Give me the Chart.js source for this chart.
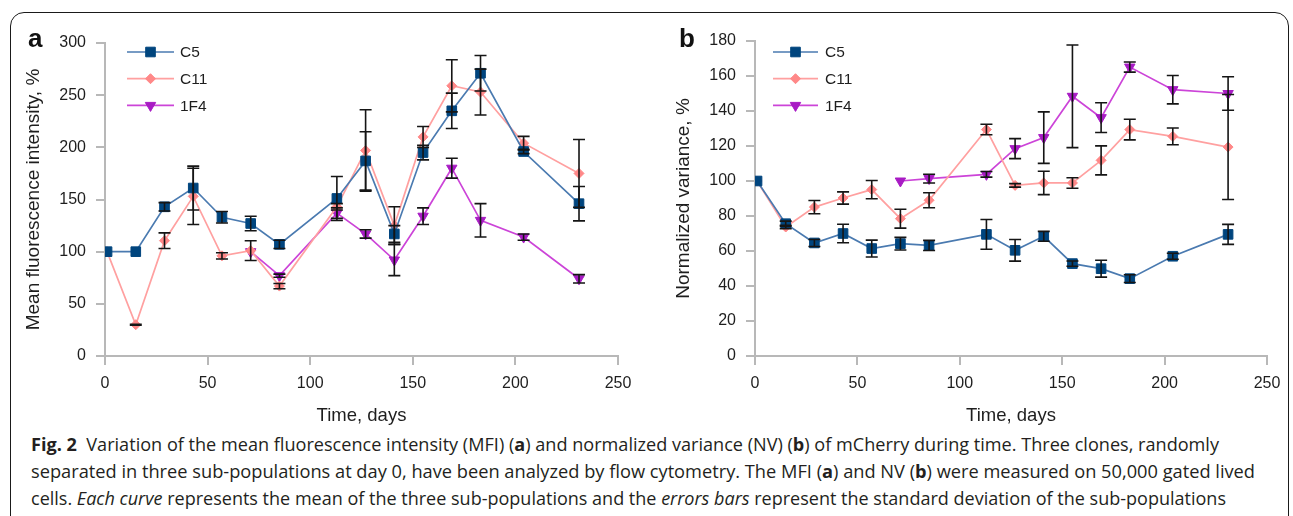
<!DOCTYPE html>
<html>
<head>
<meta charset="utf-8">
<script src="https://cdn.jsdelivr.net/npm/chart.js@4.4.1/dist/chart.umd.min.js"></script>
<style>
  html, body { margin: 0; padding: 0; background: #fff; }
  body { width: 1293px; height: 516px; position: relative; overflow: hidden; font-family: "Liberation Sans", Arial, sans-serif; }
  .frame { position: absolute; left: 10px; top: 12px; width: 1279px; height: 560px; border: 1.5px solid #1a1a1a; border-radius: 14px; box-sizing: border-box; }
  canvas { position: absolute; top: 0; }
  #mfiChart { left: 0; }
  #nvChart { left: 650px; }
  .panel { position: absolute; top: 25px; font: bold 26px/26px "Liberation Sans", Arial, sans-serif; color: #111; }
  .caption { position: absolute; left: 31px; top: 431px; font: 17.5px/27px "Open Sans", sans-serif; color: #231f20; }
  .caption div { white-space: nowrap; transform-origin: 0 0; width: max-content; }
</style>
</head>
<body>
<div class="frame"></div>
<canvas id="mfiChart" width="650" height="430"></canvas>
<canvas id="nvChart" width="643" height="430"></canvas>
<div class="panel" style="left:28px">a</div>
<div class="panel" style="left:679px">b</div>
<div class="caption">
  <div><b>Fig. 2</b>&nbsp; Variation of the mean fluorescence intensity (MFI) (<b>a</b>) and normalized variance (NV) (<b>b</b>) of mCherry during time. Three clones, randomly</div>
  <div>separated in three sub-populations at day 0, have been analyzed by flow cytometry. The MFI (<b>a</b>) and NV (<b>b</b>) were measured on 50,000 gated lived</div>
  <div>cells. <i>Each curve</i> represents the mean of the three sub-populations and the <i>errors bars</i> represent the standard deviation of the sub-populations</div>
</div>
<script>
// sampling days (same for both panels)
const days = [1, 15, 29, 43, 57, 71, 85, 113, 127, 141, 155, 169, 183, 204, 231];
const seriesNames = ['C5', 'C11', '1F4'];

// panel a - mean fluorescence intensity, %
const mfiC5 = [100, 100, 143, 161, 133, 127, 107, 151, 187, 117, 195, 235, 271, 196, 146];
const mfiC5Err = [0, 0, 4, 21, 5.5, 7, 4, 21, 28, 8, 7, 17, 17, 2, 16.5];
const mfiC11 = [100, 30, 110.5, 153, 96, 101, 67, 143, 197, 125, 210, 259, 253, 204, 175];
const mfiC11Err = [0, 0.5, 7.5, 27, 3, 9.5, 2.5, 3, 39, 18, 10, 25, 22, 6.5, 32.5];
const mfi1F4 = [null, null, null, null, null, 100, 77, 137, 117, 92, 134, 180, 130, 114, 74];
const mfi1F4Err = [null, null, null, null, null, 0, 1.5, 5, 4, 15, 8, 9.5, 16, 3, 4];

// panel b - normalized variance, %
const nvC5 = [100, 75.6, 64.6, 70, 61.4, 64.2, 63.2, 69.5, 60.4, 68.4, 52.8, 49.9, 44.2, 57, 69.5];
const nvC5Err = [0, 1.5, 2, 5.3, 4.8, 3.6, 2.9, 8.5, 6.2, 2.8, 1.5, 4.8, 2.2, 1.7, 5.7];
const nvC11 = [100, 73.7, 85.1, 90.3, 95.1, 78.5, 89, 129.4, 97.5, 98.9, 98.9, 111.8, 129.4, 125.5, 119.4];
const nvC11Err = [0, 1, 3.8, 3.5, 5.2, 5.4, 4.3, 3, 1, 6.7, 3, 8.3, 5.9, 4.8, 30];
const nv1F4 = [null, null, null, null, null, 100, 101.4, 103.8, 118.5, 124.8, 148.4, 136.2, 165.1, 152.2, 150];
const nv1F4Err = [null, null, null, null, null, 0, 2.5, 1.6, 5.7, 14.7, 29.3, 8.5, 2.9, 8.1, 9.6];

// tick settings
const xTicks = { min: 0, max: 250, step: 50 };
const mfiTicks = { min: 0, max: 300, step: 50 };
const nvTicks = { min: 0, max: 180, step: 20 };

const axisGrey = '#b8b8b8';
const textColor = '#1e1e1e';
const fontFamily = '"Liberation Sans", Arial, sans-serif';
const tickFont = { family: fontFamily, size: 16 };

const styles = [
    { line: '#4a7ab0', fill: '#00457e', point: 'rect', radius: 6.8, rotation: 0 },
    { line: '#ffa0a0', fill: '#ff8888', point: 'rectRot', radius: 5, rotation: 0 },
    { line: '#cc44d8', fill: '#a81bc4', point: 'triangle', radius: 6, rotation: 180 }
];

const toPoints = (vals, errs) => vals.map((v, i) => ({ x: days[i], y: v, err: errs[i] }));

const makeDatasets = (list) => list.map(([vals, errs], i) => ({
    label: seriesNames[i],
    data: toPoints(vals, errs),
    borderColor: styles[i].line,
    borderWidth: 1.7,
    pointStyle: styles[i].point,
    pointRadius: styles[i].radius,
    pointRotation: styles[i].rotation,
    pointBackgroundColor: styles[i].fill,
    pointBorderColor: styles[i].fill,
    pointBorderWidth: 1,
    tension: 0
}));

// black error bars with caps
const errorBars = {
    id: 'errorBars',
    afterDatasetsDraw(chart) {
        const { ctx, scales: { x, y } } = chart;
        ctx.save();
        ctx.strokeStyle = '#151515';
        ctx.lineWidth = 1.6;
        chart.data.datasets.forEach((ds) => {
            ds.data.forEach((p) => {
                if (p.y == null || !p.err) return;
                const px = x.getPixelForValue(p.x);
                const top = y.getPixelForValue(p.y + p.err);
                const bot = y.getPixelForValue(p.y - p.err);
                ctx.beginPath();
                ctx.moveTo(px, top); ctx.lineTo(px, bot);
                ctx.moveTo(px - 6, top); ctx.lineTo(px + 6, top);
                ctx.moveTo(px - 6, bot); ctx.lineTo(px + 6, bot);
                ctx.stroke();
            });
        });
        ctx.restore();
    }
};

// legend drawn inside the plot: line with marker, then name
const lineLegend = {
    id: 'lineLegend',
    afterDraw(chart, args, opts) {
        const ctx = chart.ctx;
        ctx.save();
        chart.data.datasets.forEach((ds, i) => {
            const y = opts.top + i * opts.gap;
            ctx.strokeStyle = ds.borderColor;
            ctx.lineWidth = 1.7;
            ctx.beginPath();
            ctx.moveTo(opts.left, y);
            ctx.lineTo(opts.left + opts.len, y);
            ctx.stroke();
            ctx.fillStyle = ds.pointBackgroundColor;
            ctx.strokeStyle = ds.pointBorderColor;
            ctx.lineWidth = 1;
            Chart.helpers.drawPoint(ctx, {
                pointStyle: ds.pointStyle,
                radius: ds.pointRadius,
                rotation: ds.pointRotation,
                borderWidth: 1
            }, opts.left + opts.len / 2, y);
            ctx.fillStyle = textColor;
            ctx.font = '15.5px ' + fontFamily;
            ctx.textBaseline = 'middle';
            ctx.fillText(ds.label, opts.textX, y + 1);
        });
        ctx.restore();
    }
};

function buildChart(id, datasets, yTicks, yTitle, area, legend) {
    return new Chart(document.getElementById(id), {
        type: 'line',
        data: { datasets },
        plugins: [errorBars, lineLegend],
        options: {
            responsive: false,
            animation: false,
            events: [],
            layout: { padding: { top: area.top, right: area.right, left: 0, bottom: 0 } },
            plugins: {
                legend: { display: false },
                tooltip: { enabled: false },
                lineLegend: legend
            },
            scales: {
                x: {
                    type: 'linear',
                    min: xTicks.min,
                    max: xTicks.max,
                    afterFit: (s) => { s.height = area.xHeight; },
                    ticks: { stepSize: xTicks.step, font: tickFont, color: textColor, padding: 9 },
                    grid: { drawOnChartArea: false, tickLength: 9, color: axisGrey, lineWidth: 2 },
                    border: { color: axisGrey, width: 2 },
                    title: {
                        display: true, text: 'Time, days', color: textColor,
                        font: { family: fontFamily, size: 18.5 },
                        padding: { top: 0, bottom: 3 }
                    }
                },
                y: {
                    min: yTicks.min,
                    max: yTicks.max,
                    afterFit: (s) => { s.width = 105; },
                    ticks: { stepSize: yTicks.step, font: tickFont, color: textColor, padding: 10 },
                    grid: { drawOnChartArea: false, tickLength: 9, color: axisGrey, lineWidth: 2 },
                    border: { color: axisGrey, width: 2 },
                    title: {
                        display: true, text: yTitle, color: textColor,
                        font: { family: fontFamily, size: 19 },
                        padding: { top: 22.5, bottom: 0 }
                    }
                }
            }
        }
    });
}

buildChart('mfiChart',
    makeDatasets([[mfiC5, mfiC5Err], [mfiC11, mfiC11Err], [mfi1F4, mfi1F4Err]]),
    mfiTicks, 'Mean fluorescence intensity, %',
    { top: 43, right: 32, xHeight: 74 },
    { left: 127, len: 47, textX: 180, top: 52, gap: 26.7 });

buildChart('nvChart',
    makeDatasets([[nvC5, nvC5Err], [nvC11, nvC11Err], [nv1F4, nv1F4Err]]),
    nvTicks, 'Normalized variance, %',
    { top: 41, right: 26, xHeight: 74 },
    { left: 123, len: 45, textX: 175, top: 52, gap: 26.7 });

// squeeze each caption line to the width it has in the figure
const captionLeft = 31;
const captionEnds = [1219, 1255, 1226];
document.querySelectorAll('.caption div').forEach((line, i) => {
    const w = line.getBoundingClientRect().width;
    line.style.transform = `scaleX(${(captionEnds[i] - captionLeft) / w})`;
});
</script>
</body>
</html>
